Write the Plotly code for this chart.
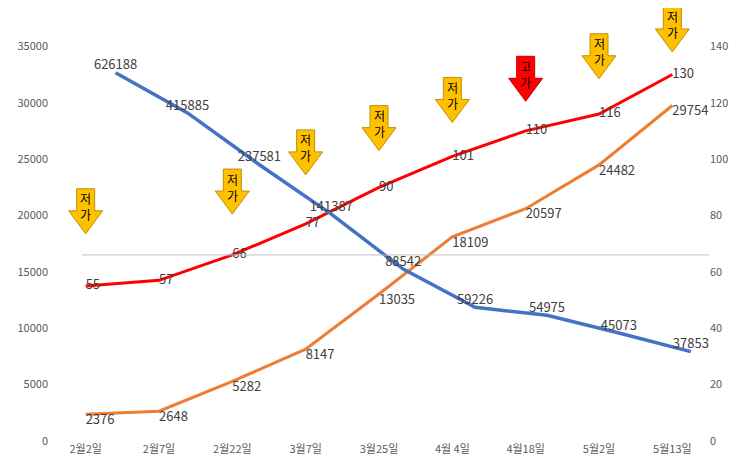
import plotly.graph_objects as go

cats = ["2월2일","2월7일","2월22일","3월7일","3월25일","4월 4일","4월18일","5월2일","5월13일"]
blue_vals = [32660, 29090, 24500, 20120, 15240, 11850, 11150, 9580, 7930]
blue_labels = ["626188","415885","237581","141387","88542","59226","54975","45073","37853"]
orange_vals = [2376, 2648, 5282, 8147, 13035, 18109, 20597, 24482, 29754]
red_vals = [55, 57, 66, 77, 90, 101, 110, 116, 130]
arrow_cats = ["2월2일","2월22일","3월7일","3월25일","4월 4일","4월18일","5월2일","5월13일"]
arrow_tip = [73.5, 80.5, 94.4, 103, 113, 120.5, 128.5, 138]
arrow_text = ["저가","저가","저가","저가","저가","고가","저가","저가"]
left_ticks = [0, 5000, 10000, 15000, 20000, 25000, 30000, 35000]
right_ticks = [0, 20, 40, 60, 80, 100, 120, 140]

F = "Noto Sans CJK KR"
fig = go.Figure()
fig.add_trace(go.Scatter(x=cats, y=orange_vals, mode="lines+text", text=[str(v) for v in orange_vals],
    textposition="bottom right", line=dict(color="#ED7D31", width=3), textfont=dict(size=13, color="#404040")))
fig.add_trace(go.Scatter(x=cats, y=red_vals, yaxis="y2", mode="lines+text", text=[str(v) for v in red_vals],
    textposition="middle right", line=dict(color="#FF0000", width=3), textfont=dict(size=13, color="#404040")))
fig.add_trace(go.Scatter(x=cats, y=blue_vals, xaxis="x2", mode="lines+text", text=blue_labels,
    textposition="top center", line=dict(color="#4472C4", width=3.5), textfont=dict(size=13, color="#404040")))

path = "M -9,45 L 9,45 L 9,23 L 17,23 L 0,0 L -17,23 L -9,23 Z"
for c, t, s in zip(arrow_cats, arrow_tip, arrow_text):
    red = s == "고가"
    fig.add_shape(type="path", path=path, xref="x", yref="y2", xanchor=c, yanchor=t,
                  xsizemode="pixel", ysizemode="pixel",
                  fillcolor="#FF0000" if red else "#FFC000",
                  line=dict(color="#C00000" if red else "#BF9000", width=1))
    fig.add_annotation(x=c, y=t, yref="y2", text=s[0] + "<br>" + s[1], showarrow=False,
                       yshift=27, font=dict(size=12, color="#000000", family=F))

fig.add_shape(type="line", xref="paper", yref="y", x0=0.05, x1=1, y0=16500, y1=16500,
              line=dict(color="#BFBFBF", width=1))

fig.update_layout(
    width=743, height=476, margin=dict(l=41, r=42, t=0, b=43),
    plot_bgcolor="white", paper_bgcolor="white", showlegend=False,
    font=dict(family=F, size=11, color="#595959"),
    xaxis=dict(type="category", range=[-0.5, 8.5], showgrid=False, showline=False, ticks="",
               tickfont=dict(size=11)),
    xaxis2=dict(type="category", overlaying="x", range=[-0.926, 8.253], visible=False),
    yaxis=dict(range=[0, 38396], tickvals=left_ticks, tickformat="d", showgrid=False,
               zeroline=False, tickfont=dict(size=11)),
    yaxis2=dict(range=[0, 153.6], tickvals=right_ticks, overlaying="y", side="right", showgrid=False,
                zeroline=False, tickfont=dict(size=11)),
)
fig.write_html("out.html")
